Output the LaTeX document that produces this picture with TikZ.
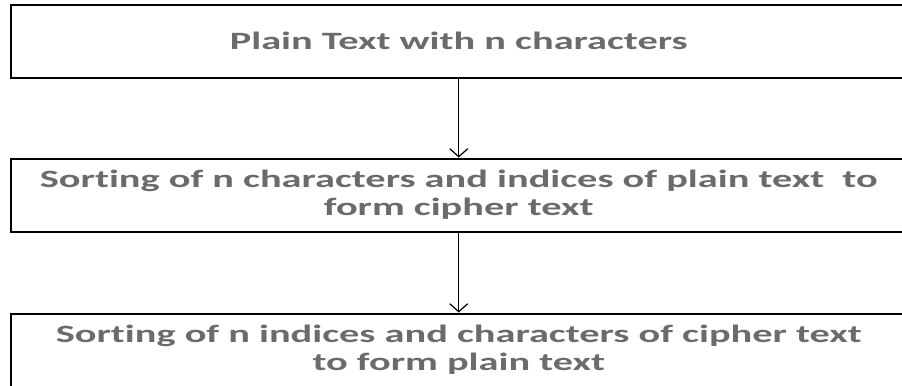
\documentclass[tikz,border=0pt]{standalone}
\usepackage{fontspec}
\setmainfont[FakeStretch=1.62,Ligatures=NoCommon]{Carlito}
\usetikzlibrary{positioning,arrows.meta}

\tikzset{stage/.style={draw, line width=2bp, minimum width=896bp, minimum height=73bp,
  align=center, text=black!58, font=\bfseries\fontsize{25}{28}\selectfont}}

\begin{document}
\begin{tikzpicture}[x=1bp,y=-1bp,-{Straight Barb[length=8bp,width=18bp]},line width=1.2bp,node distance=79bp]
			\clip (0,0) rectangle (902,385);
			\node[stage] (plain) at (458.75,41) {Plain Text with n characters};
			\node[stage] (cipher) [below=of plain] {Sorting of n characters and indices of plain text~ to\\form cipher text};
			\node[stage] (back) [below=80bp of cipher] {Sorting of n indices and characters of cipher text\\to form plain text};
			\path
			(plain) edge node {} (cipher)
			(cipher) edge node {} (back);
		\end{tikzpicture}
\end{document}
